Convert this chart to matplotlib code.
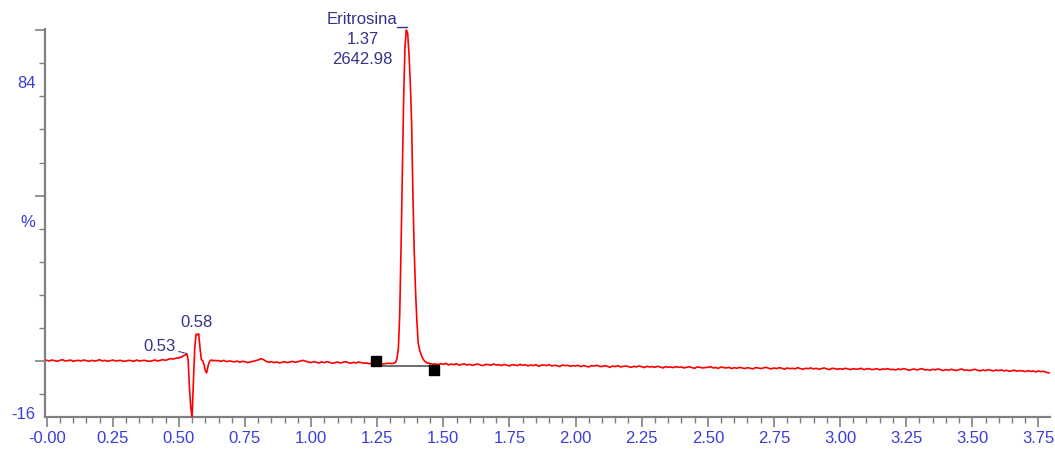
import numpy as np
import matplotlib
matplotlib.use("Agg")
import matplotlib.pyplot as plt
from matplotlib.ticker import MultipleLocator, NullFormatter

# ---------------- data ----------------
# segment A: 0.00-0.49, step 0.01
segA_start, segA_step = 0.00, 0.01
segA = [0.3, 0.1, 0.4, 0.2, 0.0, 0.3, 0.5, 0.1, 0.2, 0.4,
        0.0, 0.2, 0.3, 0.1, 0.4, 0.2, 0.0, 0.3, 0.1, 0.2,
        0.5, 0.1, 0.3, 0.0, 0.2, 0.4, 0.1, 0.2, 0.3, 0.0,
        0.1, 0.3, 0.2, 0.0, 0.4, 0.1, 0.2, 0.3, 0.1, 0.0,
        0.2, 0.4, 0.1, 0.3, 0.5, 0.3, 0.6, 0.8, 0.7, 1.0]
# segment B: 0.500-0.640, step 0.005 (solvent front disturbance)
segB_start, segB_step = 0.500, 0.005
segB = [1.0, 1.3, 1.2, 1.6, 1.8, 2.0, 2.3, 0.5, -8.0, -14.0,
        -17.0, -6.0, 4.0, 8.2, 8.0, 8.3, 4.0, 0.5, 0.2, -1.0,
        -2.8, -3.5, -1.5, -0.2, 0.3, 0.4, 0.1, 0.3, 0.2]
# segment C: 0.65-1.29, step 0.01
segC_start, segC_step = 0.65, 0.01
segC = [0.2, 0.0, 0.3, -0.1, 0.1,
        0.0, -0.2, 0.1, -0.3, 0.0, -0.1, -0.4, -0.2, 0.0, 0.2,
        0.4, 0.8, 0.5, 0.0, -0.3, -0.1, -0.4, -0.2, -0.5, -0.3,
        -0.1, -0.4, -0.2, 0.0, -0.3, -0.1, 0.1, 0.3, 0.0, -0.2,
        -0.4, -0.1, -0.3, -0.5, -0.2, -0.4, -0.1, -0.3, -0.6, -0.4,
        -0.2, -0.5, -0.3, -0.1, -0.4, -0.6, -0.3, -0.5, -0.2, -0.4,
        -0.6, -0.5, -0.7, -0.6, -0.8, -0.7, -0.6, -0.8, -0.7, -0.6]
# segment D: 1.300-1.465, step 0.005 (Eritrosina peak)
segD_start, segD_step = 1.300, 0.005
segD = [-0.6, -0.7, -0.6, -0.5, -0.3, 1.0, 4.0, 14.0, 34.0, 57.0,
        80.0, 95.0, 100.0, 99.0, 93.0, 84.0, 72.0, 50.0, 33.0, 21.0,
        12.0, 5.5, 3.5, 2.2, 1.2, 0.5, 0.0, -0.3, -0.6, -0.5,
        -0.8, -0.7, -0.9, -0.8]
# segment E: 1.47-3.79, step 0.01
segE_start, segE_step = 1.47, 0.01
segE = [-0.8, -1.0, -0.7,
        -0.9, -0.6, -1.1, -0.8, -1.0, -0.7, -1.2, -0.9, -0.8, -1.1,
        -0.9, -1.2, -1.0, -0.8, -1.1, -1.3, -0.9, -1.0, -1.2, -0.8,
        -1.1, -1.0, -1.3, -0.9, -1.2, -1.4, -1.0, -1.1, -1.3, -0.9,
        -1.2, -1.0, -1.4, -1.1, -1.3, -1.0, -1.5, -1.2, -1.1, -1.3,
        -1.0, -1.4, -1.2, -1.3, -1.6, -1.1, -1.3, -1.2, -1.5, -1.3,
        -1.4, -1.2, -1.6, -1.3, -1.5, -1.7, -1.3, -1.4, -1.2, -1.5,
        -1.6, -1.3, -1.5, -1.8, -1.4, -1.6, -1.3, -1.7, -1.5, -1.4,
        -1.6, -1.8, -1.5, -1.7, -1.4, -1.6, -1.9, -1.5, -1.7, -1.6,
        -1.8, -1.5, -1.7, -2.0, -1.6, -1.8, -1.7, -1.9, -1.6, -1.8,
        -1.7, -2.0, -1.8, -1.6, -1.9, -2.1, -1.7, -1.8, -2.0, -1.9,
        -1.8, -1.6, -2.0, -1.9, -2.1, -1.7, -1.9, -2.0, -1.8, -2.2,
        -1.9, -2.1, -1.8, -2.0, -2.2, -1.9, -2.1, -2.3, -1.9, -2.0,
        -2.2, -2.0, -1.8, -2.1, -2.3, -2.0, -2.2, -1.9, -2.1, -2.4,
        -2.0, -2.2, -2.1, -2.3, -1.9, -2.2, -2.4, -2.1, -2.2, -2.0,
        -2.3, -2.1, -2.4, -2.2, -2.0, -2.3, -2.5, -2.1, -2.2, -2.4,
        -2.2, -2.4, -2.1, -2.3, -2.5, -2.2, -2.4, -2.3, -2.1, -2.5,
        -2.3, -2.2, -2.5, -2.4, -2.2, -2.6, -2.3, -2.4, -2.2, -2.5,
        -2.4, -2.6, -2.3, -2.5, -2.2, -2.4, -2.7, -2.5, -2.3, -2.6,
        -2.4, -2.2, -2.6, -2.5, -2.7, -2.4, -2.6, -2.3, -2.5, -2.8,
        -2.5, -2.7, -2.4, -2.6, -2.8, -2.5, -2.3, -2.7, -2.6, -2.8,
        -2.6, -2.4, -2.7, -2.9, -2.6, -2.8, -2.5, -2.7, -2.9, -2.6,
        -2.8, -2.6, -2.9, -2.7, -3.0, -2.8, -2.7, -3.0, -2.8, -2.9,
        -3.1, -2.8, -3.0, -2.9, -3.2, -2.9, -3.1, -3.0, -3.3, -3.5]

# peak labels
peak_name = "Eritrosina"
peak_rt_label = "1.37"
peak_area_label = "2642.98"
peak_rt, peak_top = 1.362, 100.0
minor_labels = ["0.53", "0.58"]
minor_rts = [0.533, 0.568]
minor_vals = [2.3, 8.3]

# integration baseline markers
integ_rt = [1.245, 1.465]
integ_val = [0.0, -2.5]
integ_base = -1.3

# axis labels
xtick_vals = [0.0, 0.25, 0.5, 0.75, 1.0, 1.25, 1.5, 1.75, 2.0, 2.25, 2.5,
              2.75, 3.0, 3.25, 3.5, 3.75]
xtick_text = ["-0.00", "0.25", "0.50", "0.75", "1.00", "1.25", "1.50", "1.75",
              "2.00", "2.25", "2.50", "2.75", "3.00", "3.25", "3.50", "3.75"]
ylabel_vals = [84, 42, -16]
ylabel_text = ["84", "%", "-16"]

# ---------------- build trace ----------------
def seg(start, step, vals):
    t = start + step * np.arange(len(vals))
    return t, np.asarray(vals, float)

parts = [seg(segA_start, segA_step, segA), seg(segB_start, segB_step, segB),
         seg(segC_start, segC_step, segC), seg(segD_start, segD_step, segD),
         seg(segE_start, segE_step, segE)]
rt = np.concatenate([p[0] for p in parts])
inten = np.concatenate([p[1] for p in parts])

plt.rcParams['font.family'] = ['Liberation Sans', 'DejaVu Sans']
fig = plt.figure(figsize=(10.55, 4.49), dpi=100)
ax = fig.add_axes([0.0427, 0.0713, 0.9526, 0.8641])

ax.plot(rt, inten, color='#ff0000', lw=1.2, zorder=3)

# integration baseline + markers
ax.plot(integ_rt, [integ_base, integ_base], color='#555555', lw=1.2, zorder=2)
ax.plot(integ_rt, integ_val, linestyle='none', marker='s', ms=7.5,
        color='black', zorder=4)

ax.set_xlim(-0.006, 3.794)
ax.set_ylim(-16.8, 100.3)

for s in ['top', 'right']:
    ax.spines[s].set_visible(False)
for s in ['left', 'bottom']:
    ax.spines[s].set_color('#808080')
    ax.spines[s].set_linewidth(1.6)

tick_blue = '#3c3cdc'
ax.set_xticks(xtick_vals)
ax.set_xticklabels(xtick_text)
ax.xaxis.set_minor_locator(MultipleLocator(0.05))
ax.tick_params(axis='x', which='major', length=7, width=1.2, color='#808080',
               labelsize=12, labelcolor=tick_blue, pad=3)
ax.tick_params(axis='x', which='minor', length=4, width=1.0, color='#808080')

ax.set_yticks([0, 50, 100])
ax.set_yticklabels([])
ax.yaxis.set_minor_locator(MultipleLocator(10))
ax.yaxis.set_minor_formatter(NullFormatter())
ax.tick_params(axis='y', which='major', length=7, width=1.2, color='#808080')
ax.tick_params(axis='y', which='minor', length=4, width=1.0, color='#808080')

for v, t in zip(ylabel_vals, ylabel_text):
    ax.annotate(t, xy=(0, v), xycoords=ax.get_yaxis_transform(),
                xytext=(-7, 0), textcoords='offset points', ha='right',
                va='center', fontsize=12, color=tick_blue, annotation_clip=False)

# annotations
ann_color = '#33338c'
ax.annotate(peak_name + "\n" + peak_rt_label + "\n" + peak_area_label,
            xy=(peak_rt, peak_top), xytext=(-32, 12.8), textcoords='offset points',
            ha='center', va='top', fontsize=12, color=ann_color,
            linespacing=1.4, annotation_clip=False)
ax.plot([1.325, 1.362], [100.8, 100.8], color=ann_color, lw=1.0, zorder=2,
        clip_on=False)

ax.annotate(minor_labels[1], xy=(minor_rts[1], minor_vals[1]), xytext=(0, 3),
            textcoords='offset points', ha='center', va='bottom',
            fontsize=12, color=ann_color)
ax.annotate(minor_labels[0], xy=(minor_rts[0], minor_vals[0]), xytext=(-20, 5),
            textcoords='offset points', ha='center', va='center',
            fontsize=12, color=ann_color,
            arrowprops=dict(arrowstyle='-', color=ann_color, lw=0.8,
                            linestyle=(0, (2, 1)), shrinkA=13, shrinkB=1))

fig.savefig('out.png', dpi=100, facecolor='white')
